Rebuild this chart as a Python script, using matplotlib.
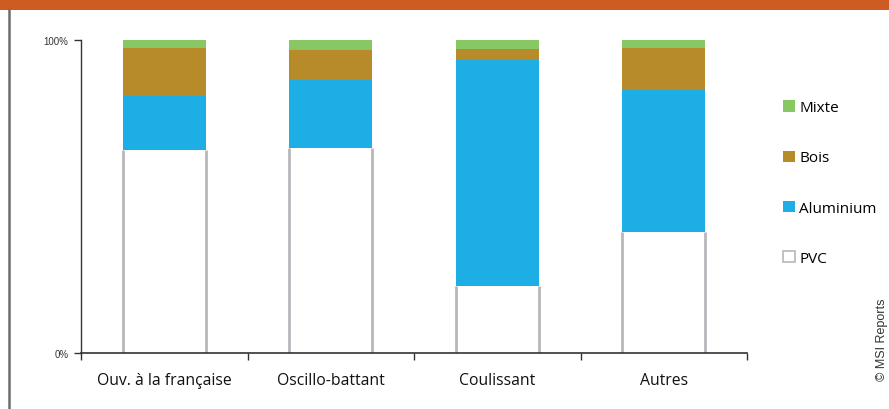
import matplotlib
matplotlib.use("Agg")
import matplotlib.pyplot as plt
from matplotlib.patches import Patch, Rectangle
from matplotlib.lines import Line2D
import numpy as np

categories = ["Ouv. à la française", "Oscillo-battant", "Coulissant", "Autres"]
pvc = [64.9, 65.5, 21.4, 38.7]
aluminium = [17.3, 21.7, 72.2, 45.4]
bois = [15.2, 9.6, 3.6, 13.3]
mixte = [2.6, 3.2, 2.8, 2.6]
series_names = ["PVC", "Aluminium", "Bois", "Mixte"]
ytick_labels = ["0%", "100%"]

colors = {"PVC": "white", "Aluminium": "#1CAEE4", "Bois": "#B88B2A", "Mixte": "#88C864"}

plt.rcParams['font.family'] = ['Open Sans', 'DejaVu Sans']

fig = plt.figure(figsize=(8.89, 4.10), dpi=100)
# top orange band
fig.patches.append(Rectangle((0, 1 - 11/410), 1, 11/410, transform=fig.transFigure,
                             facecolor="#CD5B22", edgecolor="none", zorder=0))
# left border line
fig.lines.append(Line2D([8.5/889, 8.5/889], [0, 1 - 11/410], transform=fig.transFigure,
                        color="#6d6d6d", lw=1.8))

ax = fig.add_axes([81/889, 56/410, 666/889, 313/410])
x = np.arange(len(categories))
w = 0.5
bottom = np.zeros(len(categories))
data = {"PVC": pvc, "Aluminium": aluminium, "Bois": bois, "Mixte": mixte}
for name in series_names:
    vals = np.array(data[name])
    if name == "PVC":
        ax.bar(x, vals, w, bottom=bottom, color="white", edgecolor="none", zorder=2)
        ax.vlines(np.concatenate([x - w/2, x + w/2]), 0, np.concatenate([vals, vals]),
                  color="#B8B8BC", lw=2.0, zorder=2.5)
    else:
        ax.bar(x, vals, w, bottom=bottom, color=colors[name], edgecolor="none", zorder=3)
    bottom += vals

ax.set_xlim(-0.5, len(categories) - 0.5)
ax.set_ylim(0, 100)
ax.set_yticks([0, 100])
ax.set_yticklabels(ytick_labels, fontsize=7, color="#333333", family=['Liberation Sans'])
ax.set_xticks(x)
ax.set_xticklabels(categories, fontsize=11.3, color="#111111")
ax.tick_params(axis='x', length=0, pad=14)
ax.set_xticks(np.arange(-0.5, len(categories)), minor=True)
ax.tick_params(axis='x', which='minor', length=5, width=1, color="#333333", direction='out')
ax.tick_params(axis='y', length=5, width=1, color="#333333", direction='out', pad=4)
for s in ["top", "right"]:
    ax.spines[s].set_visible(False)
ax.spines["left"].set_color("#333333")
ax.spines["bottom"].set_color("#333333")
ax.spines["left"].set_linewidth(1.0)
ax.spines["bottom"].set_linewidth(1.2)
ax.spines["bottom"].set_zorder(5)

handles = [Patch(facecolor=colors[n], edgecolor=("#B8B8BC" if n == "PVC" else "none"), linewidth=1.2)
           for n in reversed(series_names)]
fig.legend(handles, list(reversed(series_names)), loc="center left",
           bbox_to_anchor=(777/889, 1 - 184/410), frameon=False, fontsize=11,
           handlelength=0.75, handleheight=0.75, handletextpad=0.3, labelspacing=2.3,
           borderaxespad=0)

fig.text(882/889, 1 - 340/410, "© MSI Reports", rotation=90, ha="center", va="center",
         fontsize=9, color="#333333", family=['Liberation Sans'])

fig.savefig("out.png", dpi=100)
